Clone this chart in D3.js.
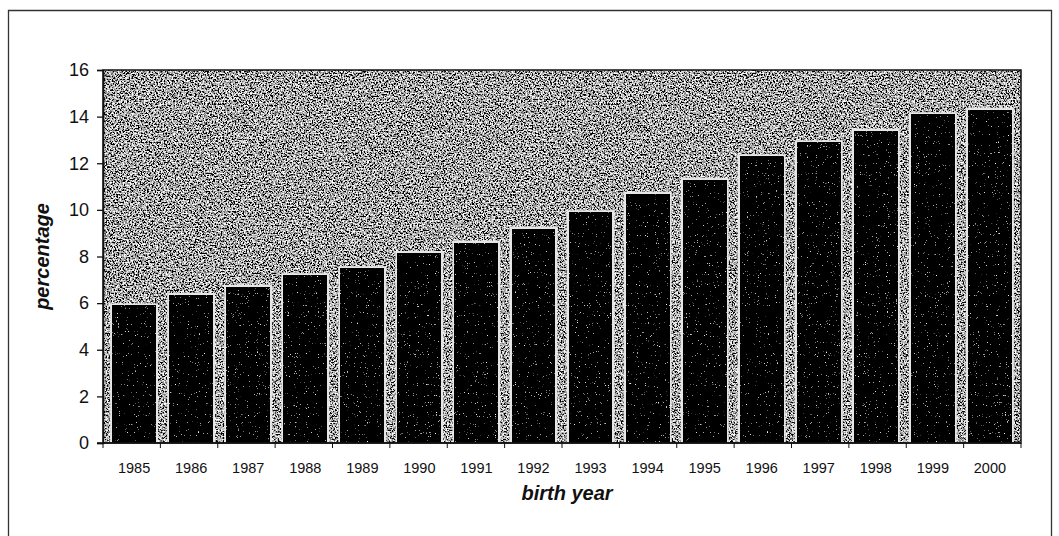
<!DOCTYPE html>
<html>
<head>
<meta charset="utf-8">
<script src="https://cdn.jsdelivr.net/npm/d3@7/dist/d3.min.js"></script>
<style>
  html, body { margin: 0; padding: 0; background: #fff; }
  svg { display: block; font-family: Arial, "Liberation Sans", Helvetica, sans-serif; }
</style>
</head>
<body>
<svg id="chart" width="1059" height="536"></svg>
<script>
// Share of births by birth year (percentage)
const years = ["1985","1986","1987","1988","1989","1990","1991","1992",
               "1993","1994","1995","1996","1997","1998","1999","2000"];
const percentage = [5.9, 6.35, 6.7, 7.2, 7.5, 8.15, 8.6, 9.2,
                    9.9, 10.7, 11.3, 12.3, 12.9, 13.4, 14.1, 14.3];
const yTicks = [0, 2, 4, 6, 8, 10, 12, 14, 16];

const W = 1059, H = 536;
const margin = { left: 103, top: 70, right: 38, bottom: 93 };
const plotW = W - margin.left - margin.right;
const plotH = H - margin.top - margin.bottom;

const svg = d3.select("#chart");

// grain textures for the plot area and the bars
const defs = svg.append("defs");
const grain = defs.append("filter").attr("id", "grain")
  .attr("x", 0).attr("y", 0).attr("width", "100%").attr("height", "100%");
grain.append("feTurbulence").attr("type", "fractalNoise")
  .attr("baseFrequency", 0.65).attr("numOctaves", 3).attr("seed", 7).attr("result", "n");
grain.append("feColorMatrix").attr("in", "n").attr("type", "matrix")
  .attr("values", "3.4 0 0 0 -1.3  3.4 0 0 0 -1.3  3.4 0 0 0 -1.3  0 0 0 0 1");

const barGrain = defs.append("filter").attr("id", "barGrain")
  .attr("x", 0).attr("y", 0).attr("width", "100%").attr("height", "100%");
barGrain.append("feTurbulence").attr("type", "fractalNoise")
  .attr("baseFrequency", 0.9).attr("numOctaves", 2).attr("seed", 11).attr("result", "n");
barGrain.append("feColorMatrix").attr("in", "n").attr("type", "matrix")
  .attr("values", "6 0 0 0 -4.3  6 0 0 0 -4.3  6 0 0 0 -4.3  0 0 0 0 1");

// outer frame
svg.append("path")
  .attr("d", `M8.5,${H + 2} V10.5 H1051.5 V${H + 2}`)
  .attr("fill", "none").attr("stroke", "#333").attr("stroke-width", 1.3);

const g = svg.append("g").attr("transform", `translate(${margin.left},${margin.top})`);

const x = d3.scaleBand().domain(years).range([0, plotW]).paddingInner(0.23).paddingOuter(0.16);
const y = d3.scaleLinear().domain([0, 16]).range([plotH, 0]);

// plot background
g.append("rect").attr("width", plotW).attr("height", plotH)
  .attr("filter", "url(#grain)");

// bars: light outline with a dark grainy fill
const bars = g.append("g").selectAll("g.bar").data(years).join("g").attr("class", "bar");
bars.append("rect")
  .attr("x", d => x(d) - 2)
  .attr("y", (d, i) => y(percentage[i]) - 2)
  .attr("width", x.bandwidth() + 4)
  .attr("height", (d, i) => plotH - y(percentage[i]) + 2)
  .attr("fill", "#e6e6e6");
bars.append("rect")
  .attr("x", d => x(d) + 0.5)
  .attr("y", (d, i) => y(percentage[i]) + 0.5)
  .attr("width", x.bandwidth() - 1)
  .attr("height", (d, i) => plotH - y(percentage[i]) - 0.5)
  .attr("filter", "url(#barGrain)");

// plot frame
g.append("rect").attr("width", plotW).attr("height", plotH)
  .attr("fill", "none").attr("stroke", "#111").attr("stroke-width", 1.5);

// y axis
const yAxis = g.append("g")
  .call(d3.axisLeft(y).tickValues(yTicks).tickSize(6).tickPadding(8).tickFormat(d3.format("d")));
yAxis.select(".domain").attr("stroke", "#111").attr("stroke-width", 1.5);
yAxis.selectAll(".tick line").attr("stroke", "#111").attr("stroke-width", 1.3);
yAxis.selectAll(".tick text").attr("font-size", 18).attr("fill", "#111")
  .attr("font-family", "Arial, 'Liberation Sans', sans-serif");

// x axis
const xAxis = g.append("g").attr("transform", `translate(0,${plotH})`)
  .call(d3.axisBottom(x).tickSize(0).tickPadding(20));
xAxis.select(".domain").remove();
xAxis.selectAll(".tick text").attr("font-size", 14.5).attr("fill", "#111")
  .attr("font-family", "Arial, 'Liberation Sans', sans-serif");
g.append("line").attr("x1", -6).attr("x2", plotW).attr("y1", plotH).attr("y2", plotH)
  .attr("stroke", "#111").attr("stroke-width", 1.5);
g.append("g").selectAll("line").data(d3.range(years.length + 1)).join("line")
  .attr("x1", i => i * plotW / years.length).attr("x2", i => i * plotW / years.length)
  .attr("y1", plotH).attr("y2", plotH + 5)
  .attr("stroke", "#111").attr("stroke-width", 1);

// axis titles
svg.append("text")
  .attr("transform", `translate(49,${margin.top + plotH / 2}) rotate(-90)`)
  .attr("text-anchor", "middle")
  .attr("font-size", 20).attr("font-weight", "bold").attr("font-style", "italic")
  .attr("fill", "#111")
  .text("percentage");
svg.append("text")
  .attr("x", margin.left + plotW / 2 + 5).attr("y", 500)
  .attr("text-anchor", "middle")
  .attr("font-size", 20).attr("font-weight", "bold").attr("font-style", "italic")
  .attr("fill", "#111")
  .text("birth year");
</script>
</body>
</html>
